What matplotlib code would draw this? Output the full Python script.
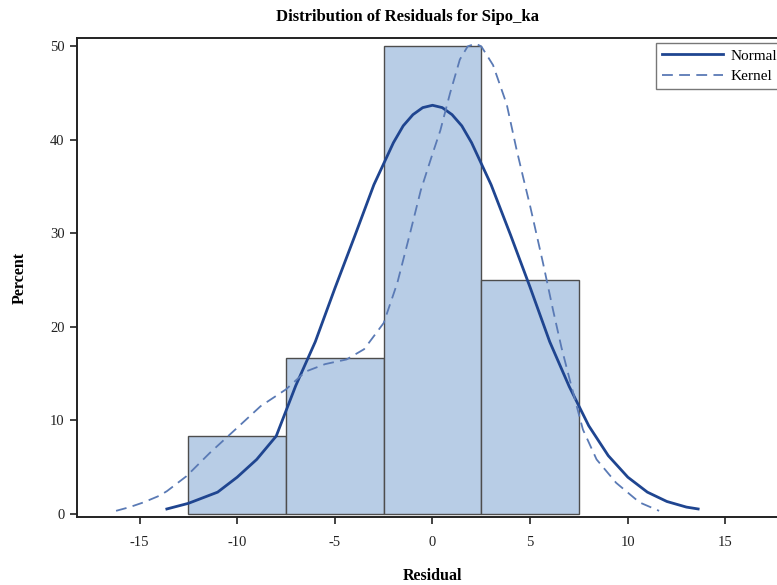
import numpy as np
import matplotlib
matplotlib.use("Agg")
import matplotlib.pyplot as plt

# histogram bins (midpoints) and percents
bin_mids = [-10, -5, 0, 5]
bin_width = 5
percents = [8.33, 16.67, 50.0, 25.0]

# normal curve
normal_x = [-13.6, -12.5, -11, -10, -9, -8, -7, -6, -5, -4, -3, -2, -1.5, -1, -0.5, 0,
            0.5, 1, 1.5, 2, 3, 4, 5, 6, 7, 8, 9, 10, 11, 12, 13, 13.6]
normal_y = [0.5, 1.1, 2.3, 3.9, 5.8, 8.3, 13.7, 18.4, 24.1, 29.6, 35.2, 39.7, 41.5, 42.7, 43.45, 43.7,
            43.45, 42.7, 41.5, 39.7, 35.2, 29.8, 24.2, 18.4, 13.6, 9.4, 6.2, 3.9, 2.3, 1.3, 0.7, 0.5]

# kernel density curve
kernel_x = [-16.2, -15.5, -14.8, -14, -13.6, -12.6, -11.4, -10.2, -8.8, -7.5, -6.5, -5.5, -4.4,
            -3.5, -2.5, -1.8, -1.15, -0.6, 0, 0.4, 0.9, 1.4, 1.8, 2.2, 2.5, 3.1, 3.8, 4.3, 4.64,
            5.0, 5.66, 6.17, 6.6, 7.03, 7.7, 8.4, 9.4, 10.6, 11.6]
kernel_y = [0.3, 0.7, 1.2, 1.9, 2.4, 4.0, 6.5, 8.8, 11.5, 13.3, 15.2, 16.0, 16.5,
            17.6, 20.4, 24.7, 30.0, 34.6, 38.5, 41.0, 45.0, 48.6, 50.0, 50.3, 50.0, 48.0, 43.8, 39.0, 36.0,
            32.9, 26.8, 21.8, 17.8, 14.3, 9.0, 5.8, 3.3, 1.2, 0.3]

x_ticks = [-15, -10, -5, 0, 5, 10, 15]
y_ticks = [0, 10, 20, 30, 40, 50]

plt.rcParams['font.family'] = ['Liberation Serif', 'DejaVu Serif']

fig = plt.figure(figsize=(7.77, 5.85), dpi=100)
ax = fig.add_axes([77 / 777, 68 / 585, 711 / 777, 479 / 585])

ax.bar(bin_mids, percents, width=bin_width, color='#b8cde6', edgecolor='#4d4d4d',
       linewidth=1.0, zorder=2)
ax.plot(normal_x, normal_y, color='#1f4590', linewidth=2.0, label='Normal', zorder=3)
ax.plot(kernel_x, kernel_y, color='#5a7ab5', linewidth=1.3, linestyle=(0, (6, 3.5)),
        label='Kernel', zorder=3)

ax.set_xlim(-18.2, 18.2)
ax.set_ylim(-0.36, 50.9)
ax.set_xticks(x_ticks)
ax.set_xticklabels([str(t) for t in x_ticks])
ax.set_yticks(y_ticks)
ax.tick_params(axis='both', direction='out', length=5, width=1.2, colors='#222222',
               labelsize=10.5)
ax.tick_params(axis='y', pad=4)
ax.tick_params(axis='x', pad=9)
for s in ax.spines.values():
    s.set_linewidth(1.4)
    s.set_color('#222222')

ax.set_xlabel('Residual', fontsize=11.5, fontweight='bold', labelpad=13.5)
ax.set_ylabel('Percent', fontsize=11.5, fontweight='bold', labelpad=16)
fig.text(408 / 777, 1 - 17 / 585, 'Distribution of Residuals for Sipo_ka', ha='center',
         va='center', fontsize=12, fontweight='bold')

leg = ax.legend(loc='upper left', bbox_to_anchor=((656 - 77) / 711, (517 - 43) / 479),
                fontsize=11, frameon=True, fancybox=False, handlelength=4.0,
                borderaxespad=0, borderpad=0.4, labelspacing=0.45, handletextpad=0.5)
leg.get_frame().set_edgecolor('#555555')
leg.get_frame().set_linewidth(1.0)

fig.savefig('out.png', dpi=100)
